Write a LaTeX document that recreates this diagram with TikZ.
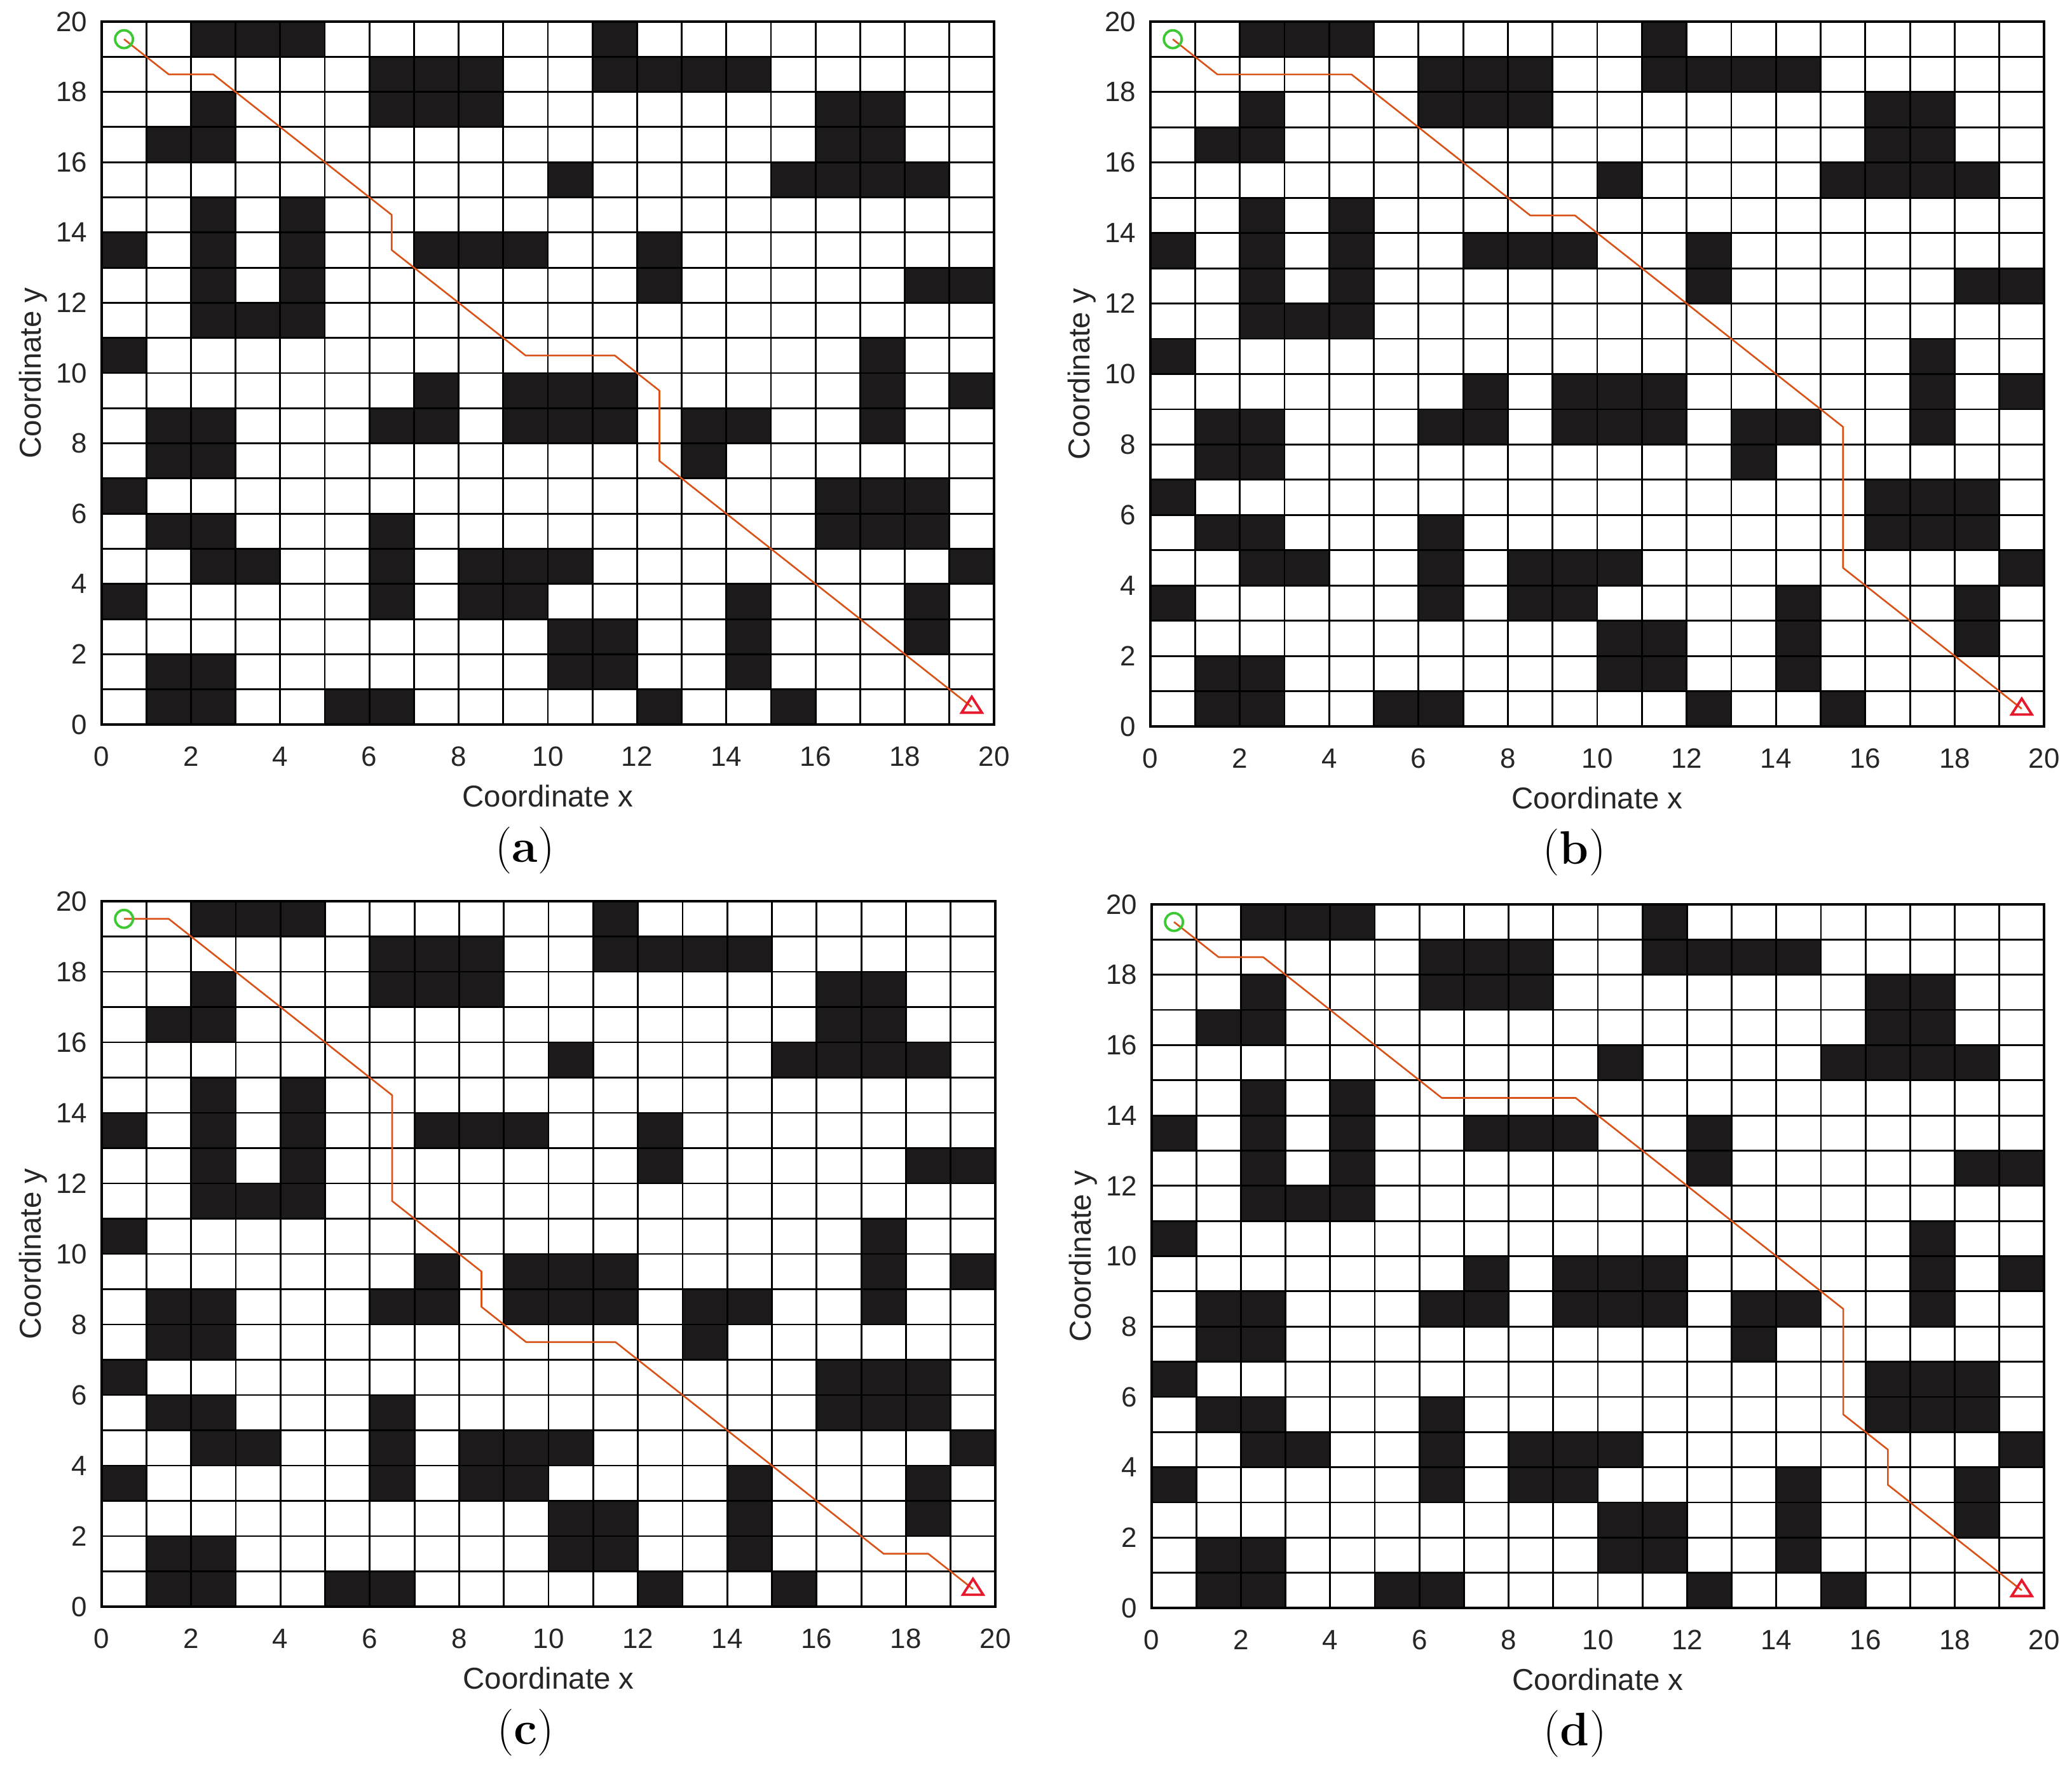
\documentclass[tikz,border=0pt]{standalone}
\usepackage{fontspec}
\setsansfont{Liberation Sans}
\definecolor{obst}{RGB}{28,26,27}
\definecolor{pathc}{RGB}{217,83,25}
\definecolor{startc}{RGB}{60,200,50}
\definecolor{goalc}{RGB}{230,25,45}
\tikzset{
  gridline/.style={black, line width=0.8pt},
  axisbox/.style={black, line width=1.1pt},
  route/.style={pathc, line width=0.75pt, line join=round},
  startmark/.style={startc, line width=1.1pt},
  goalmark/.style={goalc, line width=1.1pt, line join=miter},
  ticklab/.style={font=\sffamily\fontsize{12.5}{14}\selectfont, inner sep=0pt, text=black!85},
  axlab/.style={font=\sffamily\fontsize{13.5}{15}\selectfont, inner sep=0pt, text=black!85},
  caplab/.style={font=\rmfamily\fontsize{21}{24}\selectfont, inner sep=0pt},
}
\newcommand\obstaclemap{%
  \foreach \r/\cs in {19/{2,3,4,11}, 18/{6,7,8,11,12,13,14}, 17/{2,6,7,8,16,17},
    16/{1,2,16,17}, 15/{10,15,16,17,18}, 14/{2,4}, 13/{0,2,4,7,8,9,12},
    12/{2,4,12,18,19}, 11/{2,3,4}, 10/{0,17}, 9/{7,9,10,11,17,19},
    8/{1,2,6,7,9,10,11,13,14,17}, 7/{1,2,13}, 6/{0,16,17,18}, 5/{1,2,6,16,17,18},
    4/{2,3,6,8,9,10,19}, 3/{0,6,8,9,14,18}, 2/{10,11,14,18}, 1/{1,2,10,11,14},
    0/{1,2,5,6,12,15}}
  {\foreach \c in \cs {\fill[obst] (\c,\r) rectangle ++(1,1);}}%
}
% #1 name, #2 x0 (cm), #3 y0 (cm), #4 cell width (cm), #5 cell height (cm), #6 caption letter, #7 route
\newcommand\mappanel[7]{%
\begin{scope}[shift={(#2cm,#3cm)}, x={(#4cm,0cm)}, y={(0cm,#5cm)}]
  \obstaclemap
  \foreach \k in {1,...,19} {
    \draw[gridline] (\k,0) -- (\k,20);
    \draw[gridline] (0,\k) -- (20,\k);
  }
  \draw[axisbox] (0,0) rectangle (20,20);
  \foreach \v in {0,2,...,20} {
    \node[ticklab, anchor=east] (#1-yt\v) at ([xshift=-0.22cm]0,\v) {\v};
    \node[ticklab] (#1-xt\v) at ([yshift=-0.50cm]\v,0) {\v};
  }
  \node[axlab] (#1-xl) at ([yshift=-1.13cm]10,0) {Coordinate x};
  \node[axlab, rotate=90] (#1-yl) at ([xshift=-1.08cm]0,10) {Coordinate y};
  \node[caplab] (#1-cap) at ([xshift=-0.36cm, yshift=-1.98cm]10,0) {(\textbf{#6})};
  \draw[route] #7;
  \coordinate (#1-start) at (0.5,19.5);
  \coordinate (#1-goal) at (19.5,0.5);
  \draw[startmark] (#1-start) circle[radius=0.14cm];
  \draw[goalmark] ([xshift=-0.16cm,yshift=-0.09cm]#1-goal) -- ([xshift=0.16cm,yshift=-0.09cm]#1-goal) -- ([yshift=0.16cm]#1-goal) -- cycle;
\end{scope}}

\begin{document}
\begin{tikzpicture}
  \useasboundingbox (0,0) rectangle (32.60cm,27.84cm);
  \fill[white] (0,0) rectangle (32.60cm,27.84cm);
  \mappanel{pa}{1.60}{16.44}{0.702}{0.553}{a}{(0.5,19.5) -- (1.5,18.5) -- (2.5,18.5) -- (6.5,14.5) -- (6.5,13.5) -- (9.5,10.5) -- (11.5,10.5) -- (12.5,9.5) -- (12.5,7.5) -- (19.5,0.5)}
  \mappanel{pb}{18.10}{16.41}{0.703}{0.5545}{b}{(0.5,19.5) -- (1.5,18.5) -- (4.5,18.5) -- (8.5,14.5) -- (9.5,14.5) -- (15.5,8.5) -- (15.5,4.5) -- (19.5,0.5)}
  \mappanel{pc}{1.60}{2.56}{0.703}{0.555}{c}{(0.5,19.5) -- (1.5,19.5) -- (6.5,14.5) -- (6.5,11.5) -- (8.5,9.5) -- (8.5,8.5) -- (9.5,7.5) -- (11.5,7.5) -- (17.5,1.5) -- (18.5,1.5) -- (19.5,0.5)}
  \mappanel{pd}{18.12}{2.54}{0.702}{0.5535}{d}{(0.5,19.5) -- (1.5,18.5) -- (2.5,18.5) -- (6.5,14.5) -- (9.5,14.5) -- (15.5,8.5) -- (15.5,5.5) -- (16.5,4.5) -- (16.5,3.5) -- (19.5,0.5)}
\end{tikzpicture}
\end{document}
